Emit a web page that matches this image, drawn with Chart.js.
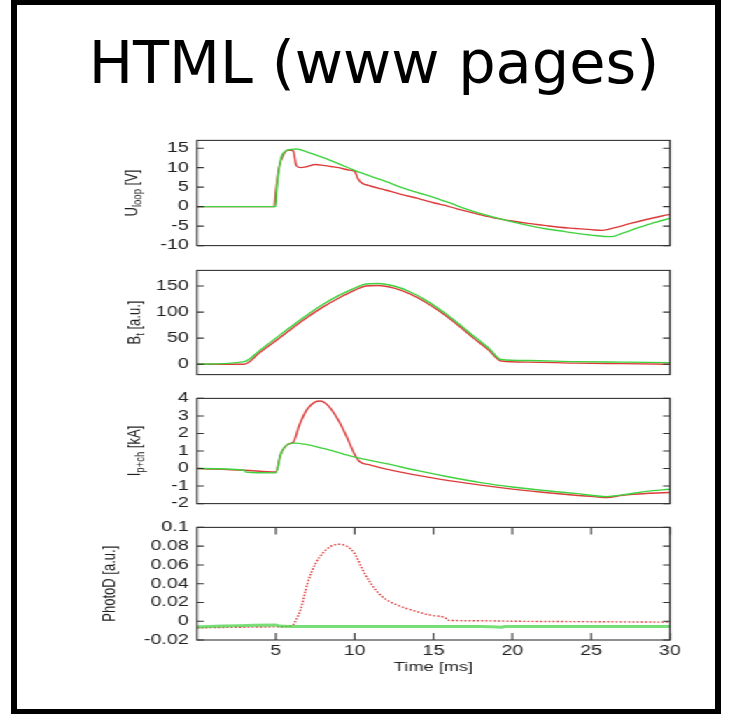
<!DOCTYPE html>
<html lang="en">
<head>
<meta charset="UTF-8">
<title>HTML (www pages)</title>
<script src="https://cdn.jsdelivr.net/npm/chart.js"></script>
<style>
  html, body { margin: 0; padding: 0; background: #fff; }
  body { width: 736px; height: 714px; position: relative; overflow: hidden; }
  .frame {
    position: absolute; left: 11px; top: 0; width: 710px; height: 714px;
    box-sizing: border-box; border: 6px solid #000; border-top-width: 5px; border-bottom-width: 5px;
  }
  .title {
    position: absolute; left: 0; top: 33px; width: 748px; text-align: center;
    font-family: 'DejaVu Sans', sans-serif; font-size: 59px; line-height: 59px; color: #000;
  }
  /* the gnuplot picture in the reference is stretched sideways */
  .plots { position: absolute; left: 0; top: 0; width: 526px; height: 714px; transform: scaleX(1.4); transform-origin: 0 0; }
  .plots canvas { position: absolute; left: 0; }
</style>
</head>
<body>
<div class="frame"></div>
<div class="title">HTML (www pages)</div>
<div class="plots">
  <canvas id="c1" width="526" height="134" style="top:126px"></canvas>
  <canvas id="c2" width="526" height="133" style="top:256px"></canvas>
  <canvas id="c3" width="526" height="134" style="top:384px"></canvas>
  <canvas id="c4" width="526" height="182" style="top:513px"></canvas>
</div>
<script>
// time axis
const timeTicks = [5, 10, 15, 20, 25, 30];

// U_loop [V]
const uloopTicks = [-10, -5, 0, 5, 10, 15];
const uloopRedT = [0, 4.9, 5.0, 5.2, 5.5, 5.8, 6.1, 6.3, 6.6, 7.0, 7.5, 8.0, 8.5, 9.0, 9.6, 10.0, 10.2, 10.4, 11, 12, 13, 14, 15, 16, 17, 18, 19, 20, 21, 22, 23, 24, 25, 25.7, 26.5, 27.5, 28.5, 29.5, 30];
const uloopRed  = [0, 0, 4, 10, 13.5, 14.5, 14.3, 10.5, 10, 10.3, 10.8, 10.6, 10.3, 10, 9.4, 9, 7.2, 6.2, 5.3, 4.2, 3.1, 2.1, 1.0, 0, -1.1, -2.1, -3.0, -3.7, -4.3, -4.8, -5.3, -5.6, -5.9, -6.1, -5.4, -4.3, -3.3, -2.4, -2.0];
const uloopGreenT = [0, 5.0, 5.05, 5.3, 5.6, 6.0, 6.3, 7, 8, 9, 10, 11, 12, 13, 14, 15, 16, 17, 18, 19, 20, 21, 22, 23, 24, 25, 26.3, 27, 28, 29, 30];
const uloopGreen  = [0, 0, 4, 12, 14.2, 14.7, 14.8, 14.0, 12.6, 11.0, 9.3, 7.8, 6.4, 4.9, 3.6, 2.4, 1.0, -0.5, -1.8, -2.9, -3.9, -4.8, -5.6, -6.2, -6.8, -7.3, -7.7, -6.8, -5.4, -4.1, -3.0];

// B_t [a.u.]
const btTicks = [0, 50, 100, 150];
const btRedT = [0, 3.0, 4, 5, 6, 7, 8, 9, 10, 10.7, 11.5, 12.5, 13.5, 14.5, 15.5, 16.5, 17.5, 18.5, 19.3, 21, 24, 27, 30];
const btRed  = [0, 0, 23, 45, 68, 90, 110, 127, 142, 150, 151, 146, 135, 119, 99, 76, 51, 27, 6, 4, 2, 1, 0];
const btGreenT = [0, 3.0, 4, 5, 6, 7, 8, 9, 10, 10.7, 11.5, 12.5, 13.5, 14.5, 15.5, 16.5, 17.5, 18.5, 19.3, 21, 24, 27, 30];
const btGreen  = [0, 5, 27, 50, 73, 95, 115, 132, 146, 154, 155, 150, 139, 123, 103, 80, 55, 31, 9, 7, 5, 4, 3];

// I_p+ch [kA]
const ipTicks = [-2, -1, 0, 1, 2, 3, 4];
const ipRedT = [0, 3, 5.0, 5.3, 5.8, 6.1, 6.5, 7.0, 7.5, 7.8, 8.3, 9.0, 9.5, 10.0, 10.3, 11, 12.6, 15, 17.2, 19.5, 21.9, 24, 25.2, 26, 27, 28.5, 30];
const ipRed  = [0, -0.1, -0.2, 0.8, 1.4, 1.5, 2.5, 3.4, 3.8, 3.85, 3.6, 2.7, 1.8, 0.8, 0.4, 0.2, -0.15, -0.55, -0.85, -1.12, -1.35, -1.52, -1.6, -1.65, -1.52, -1.42, -1.37];
const ipGreenT = [0, 3, 3.1, 5.0, 5.3, 5.8, 6.2, 8, 10, 12, 14, 16, 18, 20, 22, 24, 26, 27, 28.5, 30];
const ipGreen  = [0, -0.1, -0.2, -0.25, 0.8, 1.4, 1.45, 1.15, 0.65, 0.28, -0.12, -0.48, -0.8, -1.05, -1.25, -1.42, -1.6, -1.5, -1.3, -1.18];

// PhotoD [a.u.]
const pdTicks = [-0.02, 0, 0.02, 0.04, 0.06, 0.08, 0.1];
const pdRedT = [0, 5, 6.0, 6.3, 6.6, 7.0, 7.5, 8.0, 8.5, 9.0, 9.5, 10.0, 10.5, 11.0, 11.5, 12.0, 12.6, 13.2, 13.8, 14.4, 15.0, 15.8, 15.9, 18, 20, 25, 30];
const pdRed  = [-0.007, -0.006, -0.005, 0.002, 0.014, 0.04, 0.061, 0.073, 0.08, 0.082, 0.08, 0.072, 0.055, 0.041, 0.03, 0.023, 0.018, 0.014, 0.011, 0.008, 0.006, 0.003, 0.001, 0.0005, 0, -0.0005, -0.001];
const pdGreenT = [0, 5, 5.2, 6, 18, 19.3, 19.5, 30];
const pdGreen  = [-0.006, -0.004, -0.005, -0.0055, -0.0055, -0.0065, -0.0055, -0.0055];

const RED = '#dc3b3b';
const GREEN = '#3fd23f';
const FONT = 'Liberation Sans, Arial, sans-serif';
const AREA_LEFT = 140.7, AREA_RIGHT = 478.6, CANVAS_W = 526;

const zip = (t, v) => t.map((x, i) => ({x: x, y: v[i]}));

// gnuplot-like box, inward tics, rotated y label with subscript
const gnuFrame = {
  id: 'gnuFrame',
  afterDraw(chart, args, o) {
    const {ctx, chartArea: a, scales} = chart;
    ctx.save();
    ctx.strokeStyle = '#333';
    ctx.lineWidth = 1.1;
    ctx.strokeRect(a.left, a.top, a.right - a.left, a.bottom - a.top);
    ctx.beginPath();
    scales.y.ticks.forEach(t => {
      const y = scales.y.getPixelForValue(t.value);
      ctx.moveTo(a.left, y); ctx.lineTo(a.left + 5, y);
      ctx.moveTo(a.right, y); ctx.lineTo(a.right - 5, y);
    });
    if (o.xTicks) {
      scales.x.ticks.forEach(t => {
        const x = scales.x.getPixelForValue(t.value);
        ctx.moveTo(x, a.bottom); ctx.lineTo(x, a.bottom - 7);
        ctx.moveTo(x, a.top); ctx.lineTo(x, a.top + 7);
      });
    }
    ctx.stroke();

    ctx.fillStyle = '#222';
    ctx.textBaseline = 'alphabetic';
    ctx.translate(o.labelX, (a.top + a.bottom) / 2);
    ctx.rotate(-Math.PI / 2);
    const big = '13px ' + FONT, small = '9.5px ' + FONT;
    const [main, sub, rest] = o.label;
    ctx.font = big; const w1 = ctx.measureText(main).width; const w3 = ctx.measureText(rest).width;
    ctx.font = small; const w2 = ctx.measureText(sub).width;
    const x0 = -(w1 + w2 + w3) / 2;
    ctx.font = big; ctx.fillText(main, x0, 4.5);
    ctx.font = small; ctx.fillText(sub, x0 + w1, 7.5);
    ctx.font = big; ctx.fillText(rest, x0 + w1 + w2, 4.5);
    ctx.restore();

    if (o.xTitle) {
      ctx.save();
      ctx.fillStyle = '#222';
      ctx.font = '13px ' + FONT;
      ctx.textAlign = 'center';
      ctx.textBaseline = 'middle';
      ctx.fillText(o.xTitle, (a.left + a.right) / 2, a.bottom + 27);
      ctx.restore();
    }
  }
};

function makePanel(id, cfg) {
  const last = !!cfg.xTitle;
  return new Chart(document.getElementById(id), {
    type: 'line',
    data: {
      datasets: [
        { data: zip(cfg.greenT, cfg.green), borderColor: cfg.greenColor || GREEN, borderWidth: cfg.greenWidth || 1.4,
          pointRadius: 0, cubicInterpolationMode: 'monotone' },
        { data: zip(cfg.redT, cfg.red), borderColor: RED, borderWidth: 1.4, borderDash: cfg.redDash || [],
          pointRadius: 0, cubicInterpolationMode: 'monotone' }
      ]
    },
    options: {
      responsive: false,
      maintainAspectRatio: false,
      animation: false,
      layout: { padding: { top: 8, bottom: last ? 0 : 8, left: 0, right: CANVAS_W - AREA_RIGHT } },
      plugins: {
        legend: { display: false },
        tooltip: { enabled: false },
        gnuFrame: { label: cfg.label, labelX: cfg.labelX, xTicks: last, xTitle: cfg.xTitle }
      },
      scales: {
        x: {
          type: 'linear', min: 0, max: 30, display: last,
          grid: { display: false, drawTicks: false }, border: { display: false },
          afterBuildTicks: s => { s.ticks = timeTicks.map(v => ({value: v})); },
          afterFit: s => { if (last) s.height = 55; },
          ticks: { font: { family: FONT, size: 14 }, color: '#222', padding: 3, maxRotation: 0, autoSkip: false }
        },
        y: {
          min: cfg.min, max: cfg.max,
          grid: { display: false, drawTicks: false }, border: { display: false },
          afterBuildTicks: s => { s.ticks = cfg.ticks.map(v => ({value: v})); },
          afterFit: s => { s.width = AREA_LEFT; },
          ticks: { font: { family: FONT, size: 14 }, color: '#222', padding: 6, autoSkip: false, callback: v => String(v) }
        }
      }
    },
    plugins: [gnuFrame]
  });
}

makePanel('c1', { min: -10, max: 17, ticks: uloopTicks, redT: uloopRedT, red: uloopRed, greenT: uloopGreenT, green: uloopGreen,
  label: ['U', 'loop', ' [V]'], labelX: 93 });
makePanel('c2', { min: -20, max: 180, ticks: btTicks, redT: btRedT, red: btRed, greenT: btGreenT, green: btGreen,
  label: ['B', 't', ' [a.u.]'], labelX: 95 });
makePanel('c3', { min: -2, max: 4, ticks: ipTicks, redT: ipRedT, red: ipRed, greenT: ipGreenT, green: ipGreen,
  label: ['I', 'p+ch', ' [kA]'], labelX: 95 });
makePanel('c4', { min: -0.02, max: 0.1, ticks: pdTicks, redT: pdRedT, red: pdRed, greenT: pdGreenT, green: pdGreen,
  redDash: [1.5, 1.5], greenWidth: 3, greenColor: 'rgba(63,210,63,0.7)',
  label: ['PhotoD [a.u.]', '', ''], labelX: 77, xTitle: 'Time [ms]' });
</script>
</body>
</html>
